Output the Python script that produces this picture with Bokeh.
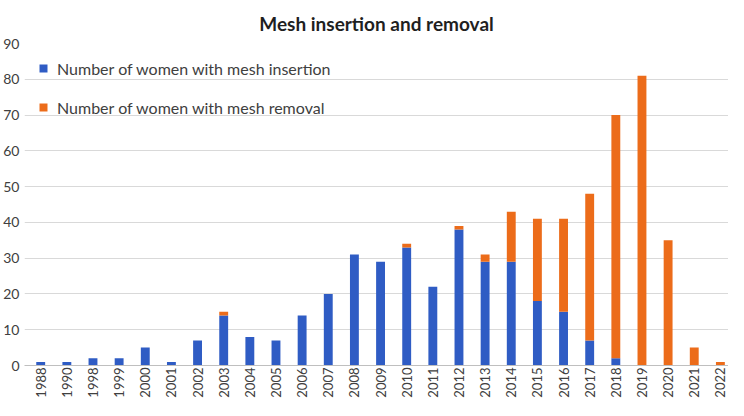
import math
from bokeh.plotting import figure
from bokeh.models import ColumnDataSource, Range1d, FixedTicker, Legend
from bokeh.embed import file_html
from bokeh.resources import INLINE

years = ["1988", "1990", "1998", "1999", "2000", "2001", "2002", "2003", "2004", "2005",
         "2006", "2007", "2008", "2009", "2010", "2011", "2012", "2013", "2014", "2015",
         "2016", "2017", "2018", "2019", "2020", "2021", "2022"]
insertion = [1, 1, 2, 2, 5, 1, 7, 14, 8, 7,
             14, 20, 31, 29, 33, 22, 38, 29, 29, 18,
             15, 7, 2, 0, 0, 0, 0]
removal = [0, 0, 0, 0, 0, 0, 0, 1, 0, 0,
           0, 0, 0, 0, 1, 0, 1, 2, 14, 23,
           26, 41, 68, 81, 35, 5, 1]
y_ticks = [0, 10, 20, 30, 40, 50, 60, 70, 80, 90]

BLUE = "#2F5CC4"
ORANGE = "#EC6C1A"
FONT = "Lato"
TXT = "#404040"

xs = list(range(len(years)))
source = ColumnDataSource(dict(x=xs, ins=insertion, rem=removal))

n = len(years)
p = figure(width=728, height=400, output_backend="svg", toolbar_location=None,
           x_range=Range1d(-0.62, n - 1 + 0.31), y_range=Range1d(0, 90),
           title="Mesh insertion and removal",
           min_border_left=0, min_border_right=0, min_border_top=43, min_border_bottom=0)

p.title.align = "center"
p.title.text_font = FONT
p.title.text_font_size = "19px"
p.title.text_font_style = "bold"
p.title.text_color = "#1F1F1F"
p.title.standoff = 17

rs = p.vbar_stack(["ins", "rem"], x="x", width=0.34, color=[BLUE, ORANGE],
                  line_color=None, source=source)

legend = Legend(items=[("Number of women with mesh insertion", [rs[0]]),
                       ("Number of women with mesh removal", [rs[1]])],
                location=(14, 248))
legend.label_text_font = FONT
legend.label_text_font_size = "16px"
legend.label_text_color = TXT
legend.glyph_width = 10
legend.glyph_height = 10
legend.label_height = 20
legend.label_standoff = 9
legend.spacing = 19
legend.padding = 0
legend.margin = 0
legend.border_line_color = None
legend.background_fill_alpha = 0
p.add_layout(legend)

p.outline_line_color = None
p.xgrid.grid_line_color = None
p.ygrid.grid_line_color = "#D9D9D9"
p.ygrid.grid_line_width = 1
p.ygrid.ticker = FixedTicker(ticks=y_ticks)

p.yaxis.ticker = FixedTicker(ticks=y_ticks)
p.yaxis.axis_line_color = None
p.yaxis.major_tick_line_color = None
p.yaxis.major_tick_out = 0
p.yaxis.major_tick_in = 0
p.yaxis.minor_tick_line_color = None
p.yaxis.minor_tick_out = 0
p.yaxis.minor_tick_in = 0
p.yaxis.major_label_text_font = FONT
p.yaxis.major_label_text_font_size = "14px"
p.yaxis.major_label_text_color = TXT
p.yaxis.major_label_standoff = 5

p.xaxis.ticker = FixedTicker(ticks=xs)
p.xaxis.major_label_overrides = {i: y for i, y in enumerate(years)}
p.xaxis.major_label_orientation = math.pi / 2
p.xaxis.axis_line_color = "#BFBFBF"
p.xaxis.major_tick_line_color = None
p.xaxis.major_tick_out = 0
p.xaxis.major_tick_in = 0
p.xaxis.minor_tick_line_color = None
p.xaxis.minor_tick_out = 0
p.xaxis.minor_tick_in = 0
p.xaxis.major_label_text_font = FONT
p.xaxis.major_label_text_font_size = "13px"
p.xaxis.major_label_text_color = TXT
p.xaxis.major_label_standoff = 2

open("out.html", "w").write(file_html(p, INLINE))
